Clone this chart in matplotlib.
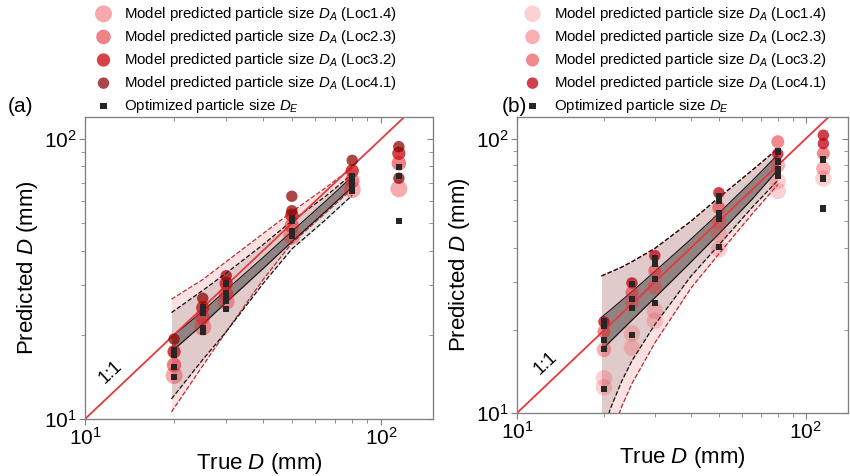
import matplotlib
matplotlib.use("Agg")
import matplotlib.pyplot as plt
from matplotlib.ticker import NullFormatter

plt.rcParams["font.family"] = ["Liberation Sans", "DejaVu Sans"]
plt.rcParams["mathtext.fontset"] = "custom"
plt.rcParams["mathtext.rm"] = "Liberation Sans"
plt.rcParams["mathtext.it"] = "Liberation Sans:italic"

LOC_NAMES = ["Loc1.4", "Loc2.3", "Loc3.2", "Loc4.1"]

# ---- panel (a) data ----
A_LOC14_X = [20, 25, 30, 50, 80, 115]
A_LOC14_Y = [14.3, 21.3, 26.3, 45.0, 66.0, 66.5]
A_LOC23_X = [20, 25, 30, 50, 80, 115]
A_LOC23_Y = [15.6, 23.0, 28.0, 49.0, 71.0, 82.0]
A_LOC32_X = [20, 25, 30, 50, 80, 115]
A_LOC32_Y = [17.4, 25.0, 30.5, 53.5, 77.0, 89.0]
A_LOC41_X = [20, 25, 30, 50, 50, 80, 115, 115]
A_LOC41_Y = [19.3, 27.0, 32.5, 55.5, 62.5, 84.0, 94.0, 72.5]
A_DE_X = [20, 20, 20, 20, 25, 25, 25, 25, 30, 30, 30, 30, 50, 50, 50, 50,
          80, 80, 80, 80, 115, 115, 115]
A_DE_Y = [17.6, 17.0, 15.3, 14.1, 25.1, 24.0, 21.1, 20.4, 30.5, 28.1, 26.5, 24.8,
          52.4, 51.0, 47.1, 45.2, 73.8, 70.9, 68.1, 65.3, 79.5, 73.8, 51.0]
A_BAND_X = [19.6, 25, 30, 40, 50, 65, 80]
A_RED_HI = [26.8, 31.5, 36.5, 46.0, 55.0, 67.0, 79.0]
A_BLK_HI = [24.0, 28.8, 33.2, 42.0, 51.0, 62.5, 75.0]
A_CI_HI = [19.6, 24.3, 28.9, 37.8, 46.8, 60.0, 73.5]
A_CI_LO = [17.4, 21.8, 26.1, 34.5, 43.0, 55.2, 67.5]
A_RED_LO = [10.6, 15.5, 20.5, 31.5, 42.5, 54.5, 66.5]
A_BLK_LO = [11.8, 16.3, 20.5, 30.5, 40.5, 51.5, 63.0]

# ---- panel (b) data ----
B_LOC14_X = [20, 20, 25, 25, 30, 30, 50, 50, 80, 80, 115]
B_LOC14_Y = [13.4, 12.4, 19.5, 17.3, 23.6, 21.7, 44.9, 39.5, 64.5, 70.0, 71.6]
B_LOC23_X = [20, 25, 30, 50, 80, 115]
B_LOC23_Y = [17.0, 25.2, 28.8, 50.0, 80.0, 77.8]
B_LOC32_X = [20, 25, 30, 50, 80, 115]
B_LOC32_Y = [19.8, 27.5, 33.0, 56.0, 97.5, 88.3]
B_LOC41_X = [20, 25, 30, 50, 80, 115, 115]
B_LOC41_Y = [21.5, 29.8, 37.5, 63.5, 88.0, 103.0, 96.0]
B_DE_X = [20, 20, 20, 20, 20, 25, 25, 25, 25, 30, 30, 30, 30, 50, 50, 50, 50, 50,
          80, 80, 80, 80, 115, 115, 115]
B_DE_Y = [21.7, 20.8, 18.4, 17.1, 12.2, 29.6, 26.1, 24.2, 19.2, 36.7, 34.9, 30.8, 25.1,
          61.6, 59.2, 53.5, 50.9, 40.3, 89.8, 82.6, 77.8, 73.4, 84.0, 71.6, 55.7]
B_BAND_X = [19.6, 21, 23, 25, 30, 40, 50, 65, 80]
B_HI = [31.6, 32.6, 34.0, 35.6, 39.8, 50.0, 61.0, 76.5, 92.0]
B_CI_HI = [22.3, 23.7, 25.7, 27.7, 32.8, 43.0, 53.5, 70.0, 87.5]
B_CI_LO = [16.9, 18.2, 20.0, 21.8, 26.3, 35.5, 45.0, 60.0, 77.0]
B_BLK_LO = [8.0, 10.3, 13.0, 15.5, 21.0, 31.5, 41.0, 56.0, 70.5]
B_RED_LO = [6.5, 8.0, 10.5, 12.8, 18.0, 28.5, 38.0, 53.0, 68.0]

ONE_TO_ONE = [10, 200]

# (color, alpha, size) per location, panel a / panel b
A_STYLE = [("#e8202a", 0.38, 150), ("#e41c24", 0.55, 110), ("#cc1418", 0.8, 92), ("#8b0000", 0.72, 68)]
B_STYLE = [("#f0303a", 0.22, 140), ("#f0303a", 0.38, 110), ("#e8282f", 0.55, 88), ("#c00010", 0.75, 68)]

SPINE = "#808080"


def setup_axes(ax, xlim, ylim):
    ax.set_xscale("log")
    ax.set_yscale("log")
    ax.set_xlim(*xlim)
    ax.set_ylim(*ylim)
    for s in ax.spines.values():
        s.set_color(SPINE)
    ax.xaxis.set_minor_formatter(NullFormatter())
    ax.yaxis.set_minor_formatter(NullFormatter())
    ax.tick_params(which="both", direction="out", color=SPINE, labelsize=15, pad=1.5)
    ax.tick_params(which="major", length=4.5)
    ax.tick_params(which="minor", length=3)
    # mirrored inward ticks on top/right
    tx = ax.twiny()
    tx.set_xscale("log"); tx.set_xlim(*xlim)
    tx.tick_params(which="both", direction="in", color=SPINE, labeltop=False)
    tx.tick_params(which="major", length=4.5); tx.tick_params(which="minor", length=3)
    ty = ax.twinx()
    ty.set_yscale("log"); ty.set_ylim(*ylim)
    ty.tick_params(which="both", direction="in", color=SPINE, labelright=False)
    ty.tick_params(which="major", length=4.5); ty.tick_params(which="minor", length=3)
    for t in (tx, ty):
        for s in t.spines.values():
            s.set_color(SPINE)
        t.xaxis.set_minor_formatter(NullFormatter())
        t.yaxis.set_minor_formatter(NullFormatter())
    ax.set_xlabel("True $D$ (mm)", fontsize=16, labelpad=1)
    ax.set_ylabel("Predicted $D$ (mm)", fontsize=16, labelpad=3)


def draw_points(ax, locs, de, styles):
    handles = []
    for (xs, ys), (c, a, s), name in zip(locs, styles, LOC_NAMES):
        h = ax.scatter(xs, ys, s=s, color=c, alpha=a, edgecolors="none", zorder=4,
                       label="Model predicted particle size $D_A$ (" + name + ")")
        handles.append(h)
    h = ax.scatter(de[0], de[1], s=20, marker="s", color="#262626", edgecolors="none",
                   zorder=5, label="Optimized particle size $D_E$")
    handles.append(h)
    return handles


def add_legend(handles, x0):
    fig.legend(handles=handles, loc="upper left", bbox_to_anchor=(x0 / 850, 0.99),
               frameon=False, fontsize=10.8, handlelength=1.0, handletextpad=0.9,
               labelspacing=0.34, borderpad=0, borderaxespad=0)


fig = plt.figure(figsize=(8.5, 4.76), dpi=100)

# ---------------- panel (a) ----------------
ax = fig.add_axes([85 / 850, 57 / 476, 348 / 850, 302 / 476])
ax.fill_between(A_BAND_X, A_RED_LO, A_RED_HI, color="#f08080", alpha=0.23, lw=0, zorder=1)
ax.fill_between(A_BAND_X, A_BLK_LO, A_BLK_HI, color="#000000", alpha=0.1, lw=0, zorder=1)
ax.fill_between(A_BAND_X, A_CI_LO, A_CI_HI, color="#000000", alpha=0.35, lw=0, zorder=1)
ax.plot(A_BAND_X, A_RED_HI, "--", color="#c0282d", lw=0.9, zorder=2)
ax.plot(A_BAND_X, A_RED_LO, "--", color="#c0282d", lw=0.9, zorder=2)
ax.plot(A_BAND_X, A_BLK_HI, "--", color="#111111", lw=0.9, zorder=2)
ax.plot(A_BAND_X, A_BLK_LO, "--", color="#111111", lw=0.9, zorder=2)
ax.plot(A_BAND_X, A_CI_HI, "-", color="#111111", lw=0.8, zorder=2)
ax.plot(A_BAND_X, A_CI_LO, "-", color="#111111", lw=0.8, zorder=2)
ax.plot(ONE_TO_ONE, ONE_TO_ONE, "-", color="#e8383d", lw=1.3, zorder=3)
hs = draw_points(ax, [(A_LOC14_X, A_LOC14_Y), (A_LOC23_X, A_LOC23_Y), (A_LOC32_X, A_LOC32_Y),
                      (A_LOC41_X, A_LOC41_Y)], (A_DE_X, A_DE_Y), A_STYLE)
ax.text(12.2, 14.7, "1:1", rotation=43, fontsize=13, ha="center", va="center",
        rotation_mode="anchor", zorder=6)
setup_axes(ax, (10, 150), (10, 120))
add_legend(hs, 96)
fig.text(8 / 850, 1 - 106 / 476, "(a)", fontsize=15, va="center")

# ---------------- panel (b) ----------------
ax = fig.add_axes([517 / 850, 63 / 476, 331 / 850, 296 / 476])
ax.fill_between(B_BAND_X, B_RED_LO, B_HI, color="#f08080", alpha=0.23, lw=0, zorder=1)
ax.fill_between(B_BAND_X, B_BLK_LO, B_HI, color="#000000", alpha=0.1, lw=0, zorder=1)
ax.fill_between(B_BAND_X, B_CI_LO, B_CI_HI, color="#000000", alpha=0.35, lw=0, zorder=1)
ax.plot(B_BAND_X, B_HI, "--", color="#c0282d", lw=0.9, zorder=2)
ax.plot(B_BAND_X, B_HI, "--", color="#111111", lw=0.9, zorder=2, dashes=(3.7, 1.6))
ax.plot(B_BAND_X, B_RED_LO, "--", color="#c0282d", lw=0.9, zorder=2)
ax.plot(B_BAND_X, B_BLK_LO, "--", color="#111111", lw=0.9, zorder=2)
ax.plot(B_BAND_X, B_CI_HI, "-", color="#111111", lw=0.8, zorder=2)
ax.plot(B_BAND_X, B_CI_LO, "-", color="#111111", lw=0.8, zorder=2)
ax.plot(ONE_TO_ONE, ONE_TO_ONE, "-", color="#e8383d", lw=1.3, zorder=3)
hs = draw_points(ax, [(B_LOC14_X, B_LOC14_Y), (B_LOC23_X, B_LOC23_Y), (B_LOC32_X, B_LOC32_Y),
                      (B_LOC41_X, B_LOC41_Y)], (B_DE_X, B_DE_Y), B_STYLE)
ax.text(12.6, 15.2, "1:1", rotation=43, fontsize=13, ha="center", va="center",
        rotation_mode="anchor", zorder=6)
setup_axes(ax, (10, 140), (10, 120))
add_legend(hs, 525)
fig.text(502 / 850, 1 - 106 / 476, "(b)", fontsize=15, va="center")

fig.savefig("out.png", dpi=100)
